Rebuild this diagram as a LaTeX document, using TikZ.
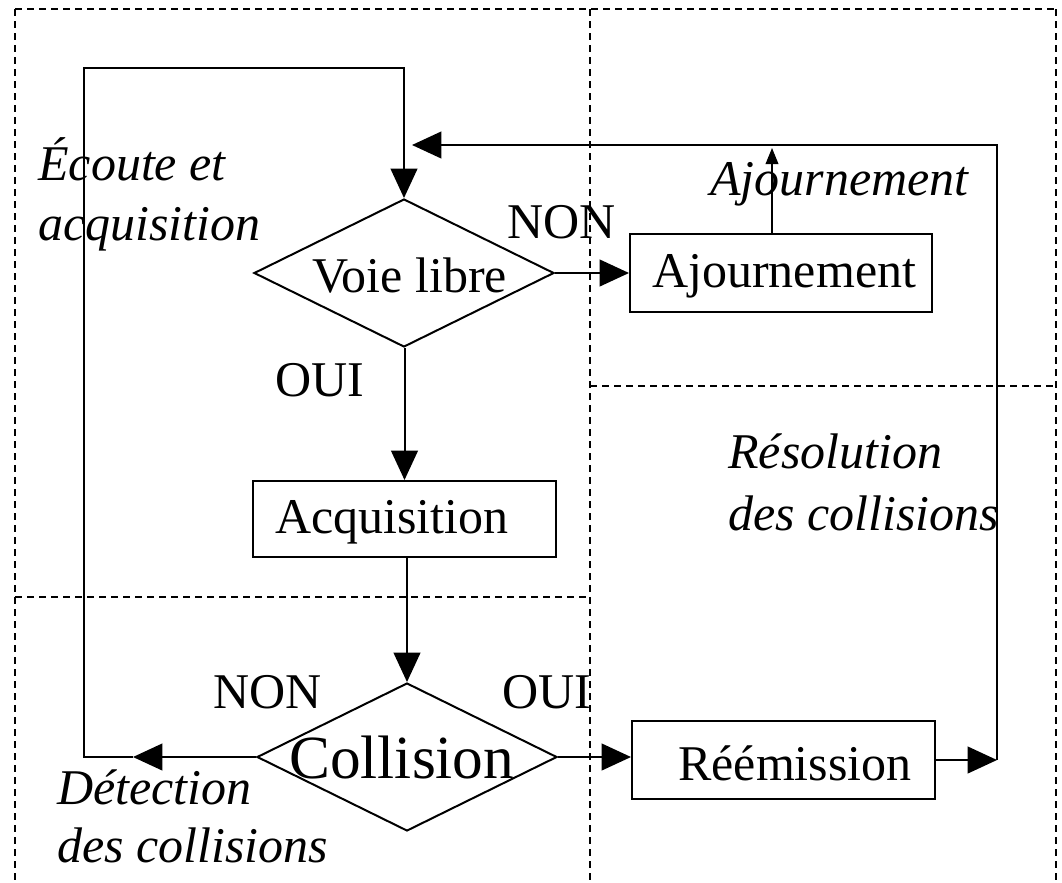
\documentclass[tikz,border=0pt]{standalone}
\usepackage{fontspec}
\setmainfont{Liberation Serif}
\usetikzlibrary{arrows.meta,shapes.geometric}
\begin{document}
\begin{tikzpicture}[x=0.75pt,y=-0.75pt,
  arr/.style={line width=1.5pt,-{Triangle[length=22pt,width=20pt]}},
  conn/.style={line width=1.5pt},
  thinarr/.style={line width=1.1pt,-{Triangle[length=12pt,width=9.5pt]}},
  zone/.style={line width=0.9pt,dash pattern=on 5.5pt off 3.5pt},
  decision/.style={diamond,draw,line width=1.5pt,minimum width=225pt,minimum height=111pt,inner sep=0pt,aspect=2},
  stepbox/.style={rectangle,draw,line width=1.5pt,inner sep=0pt},
  lbl/.style={anchor=base west,inner sep=0pt,font=\fontsize{37.5}{45}\selectfont},
  ilbl/.style={anchor=base west,inner sep=0pt,font=\fontsize{37.5}{45}\selectfont\itshape},
]
\useasboundingbox (0,0) rectangle (1062,882);
\fill[white] (0,0) rectangle (1062,882);

% zones
\draw[zone] (15,9) -- (1056,9);
\draw[zone] (15,9) -- (15,882);
\draw[zone] (1056,9) -- (1056,882);
\draw[zone] (590,9) -- (590,882);
\draw[zone] (15,597) -- (590,597);
\draw[zone] (590,386) -- (1056,386);

% shapes
\node[decision] (vl) at (404,273) {};
\node[decision] (col) at (407,757) {};
\node[stepbox,minimum width=226.5pt,minimum height=58.5pt] (aj) at (781,273) {};
\node[stepbox,minimum width=227.25pt,minimum height=57pt] (acq) at (404.5,519) {};
\node[stepbox,minimum width=227.25pt,minimum height=58.5pt] (ree) at (783.5,760) {};

% texts in shapes
\node[lbl] (tvl) at (312,292) {Voie libre};
\node[anchor=base west,inner sep=0pt,font=\fontsize{46}{52}\selectfont] (tcol) at (289,778) {Collision};
\node[lbl] (taj) at (652,287) {Ajournement};
\node[lbl] (tacq) at (275,533) {Acquisition};
\node[lbl] (tree) at (678,780) {Réémission};

% labels
\node[lbl] (non1) at (507,238) {NON};
\node[lbl] (oui1) at (275,396) {OUI};
\node[lbl] (non2) at (213,708) {NON};
\node[lbl] (oui2) at (502,708) {OUI};
\node[ilbl] (ec1) at (38,180) {Écoute et};
\node[ilbl] (ec2) at (38,240) {acquisition};
\node[ilbl] (ajit) at (710,195) {Ajournement};
\node[ilbl] (res1) at (728,468) {Résolution};
\node[ilbl] (res2) at (728,530) {des collisions};
\node[ilbl] (det1) at (57,804) {Détection};
\node[ilbl] (det2) at (57,862) {des collisions};

% coordinates
\coordinate (lt) at (133,757);
\coordinate (lc) at (84,757);
\coordinate (tc) at (84,68);
\coordinate (rb) at (997,760);
\coordinate (rt) at (997,145);
\coordinate (rl) at (412,145);
\coordinate (ajt) at (772,148);

% connectors
\draw[arr] (vl.east) -- (aj.west);
\draw[arr] (vl.south -| acq.north) -- (acq.north);
\draw[arr] (acq.south -| col.north) -- (col.north);
\draw[arr] (col.east) -- (ree.west |- col.east);
\draw[arr] (col.west) -- (lt);
\draw[arr] (lt) -- (lc) -- (tc) -| (vl.north);
\draw[arr] (ree.east) -- (rb);
\draw[arr] (rb) -- (rt) -- (rl);
\draw[thinarr] (aj.north -| ajt) -- (ajt);
\end{tikzpicture}
\end{document}
